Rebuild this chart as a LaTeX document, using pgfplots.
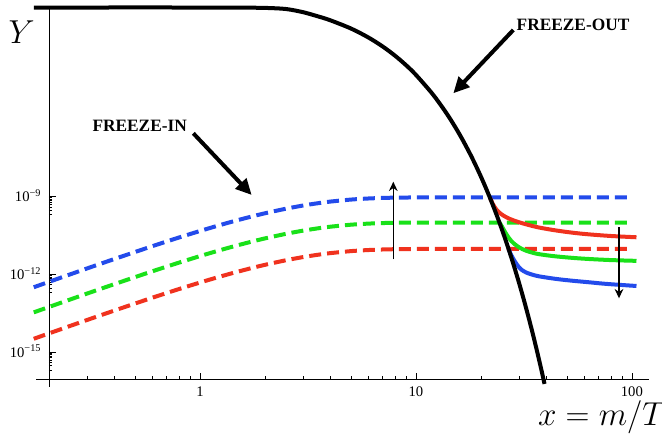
\documentclass[border=0pt]{standalone}
\usepackage{fontspec}
\setmainfont{Liberation Serif}
\usepackage{pgfplots}
\pgfplotsset{compat=1.18}
\usetikzlibrary{arrows.meta}

\definecolor{mblue}{RGB}{35,75,235}
\definecolor{mgreen}{RGB}{25,225,25}
\definecolor{mred}{RGB}{240,50,30}

\begin{document}
\begin{tikzpicture}[x=0.75pt,y=0.75pt]
\path[use as bounding box] (0,0) rectangle (662,433);

\begin{axis}[
    at={(36.75pt,40.125pt)}, anchor=south west,
    scale only axis, width=450pt, height=279pt,
    xmode=log, ymode=log,
    xmin=0.2, xmax=120, ymin=8.7e-17, ymax=2e-2,
    axis lines=left, axis line style={-, line width=0.6pt},
    clip=false,
    tick align=inside, major tick length=5pt, minor tick length=2.5pt,
    every tick/.style={black, line width=0.5pt},
    xtick={1,10,100}, xticklabels={1,10,100},
    minor xtick={0.3,0.4,0.5,0.6,0.7,0.8,0.9,2,3,4,5,6,7,8,9,20,30,40,50,60,70,80,90},
    ytick={1e-15,1e-12,1e-9},
    yticklabels={10\textsuperscript{−15},10\textsuperscript{−12},10\textsuperscript{−9}},
    minor ytick={2e-16,3e-16,4e-16,5e-16,6e-16,7e-16,8e-16,9e-16,
                 2e-13,3e-13,4e-13,5e-13,6e-13,7e-13,8e-13,9e-13,
                 2e-10,3e-10,4e-10,5e-10,6e-10,7e-10,8e-10,9e-10},
    xticklabel style={font=\fontsize{11}{13}\selectfont, yshift=-2pt},
    yticklabel style={font=\fontsize{11}{13}\selectfont, anchor=base east, yshift=-3.8pt, xshift=-2.3pt},
]

% freeze-in (dashed)
\addplot[mblue, line width=3pt, dash pattern=on 9pt off 4.5pt, smooth] coordinates {
(0.17,3.170e-13) (0.2,5.129e-13) (0.3,1.687e-12) (0.4,3.864e-12) (0.5,7.261e-12)
(0.6,1.211e-11) (0.7,1.845e-11) (0.8,2.642e-11) (1.0,4.710e-11) (1.2,7.396e-11)
(1.4,1.064e-10) (1.7,1.633e-10) (2.0,2.275e-10) (2.5,3.412e-10) (3.0,4.529e-10)
(3.5,5.534e-10) (4,6.412e-10) (5,7.691e-10) (6,8.453e-10) (7,8.892e-10)
(8,9.120e-10) (10,9.290e-10) (15,9.333e-10) (100,9.333e-10)
};
\addplot[mgreen, line width=3pt, dash pattern=on 9pt off 4.5pt, smooth] coordinates {
(0.17,3.396e-14) (0.2,5.495e-14) (0.3,1.807e-13) (0.4,4.140e-13) (0.5,7.780e-13)
(0.6,1.297e-12) (0.7,1.977e-12) (0.8,2.831e-12) (1.0,5.047e-12) (1.2,7.925e-12)
(1.4,1.140e-11) (1.7,1.750e-11) (2.0,2.438e-11) (2.5,3.656e-11) (3.0,4.853e-11)
(3.5,5.929e-11) (4,6.871e-11) (5,8.241e-11) (6,9.057e-11) (7,9.528e-11)
(8,9.772e-11) (10,9.954e-11) (15,1.0e-10) (100,1.0e-10)
};
\addplot[mred, line width=3pt, dash pattern=on 9pt off 4.5pt, smooth] coordinates {
(0.17,3.243e-15) (0.2,5.248e-15) (0.3,1.726e-14) (0.4,3.954e-14) (0.5,7.430e-14)
(0.6,1.239e-13) (0.7,1.888e-13) (0.8,2.704e-13) (1.0,4.819e-13) (1.2,7.568e-13)
(1.4,1.089e-12) (1.7,1.671e-12) (2.0,2.328e-12) (2.5,3.491e-12) (3.0,4.634e-12)
(3.5,5.662e-12) (4,6.561e-12) (5,7.870e-12) (6,8.650e-12) (7,9.099e-12)
(8,9.333e-12) (10,9.506e-12) (15,9.550e-12) (100,9.550e-12)
};

% freeze-out (solid)
\addplot[mred, line width=3pt, smooth, line join=round] coordinates {
(22.0,9.120e-10) (22.6,5.623e-10) (23.3,3.631e-10) (24.2,2.512e-10) (25.5,1.820e-10)
(27.2,1.380e-10) (29.5,1.072e-10) (32.4,8.511e-11) (37,6.457e-11) (44.8,4.898e-11)
(54,3.981e-11) (63.9,3.467e-11) (80,3.020e-11) (105,2.692e-11)
};
\addplot[mgreen, line width=3pt, smooth, line join=round] coordinates {
(24.4,1.000e-10) (25.2,6.310e-11) (26.0,3.981e-11) (26.8,2.692e-11) (27.7,1.905e-11)
(28.8,1.413e-11) (30.2,1.072e-11) (32.4,8.128e-12) (36,6.310e-12) (40,5.495e-12)
(44.8,4.898e-12) (54,4.266e-12) (63.9,3.890e-12) (80,3.548e-12) (105,3.311e-12)
};
\addplot[mblue, line width=3pt, smooth, line join=round] coordinates {
(26.84,9.550e-12) (27.6,5.623e-12) (28.7,3.162e-12) (29.7,2.089e-12) (30.8,1.514e-12)
(32.4,1.175e-12) (34.5,9.772e-13) (37.3,8.318e-13) (44.8,6.607e-13) (53.4,5.623e-13)
(63.9,4.898e-13) (76.3,4.266e-13) (105,3.548e-13)
};

% equilibrium curve
\addplot[black, line width=3pt, smooth, line join=round] coordinates {
(0.17,2.0e-2) (1.0,2.0e-2) (1.5,1.98e-2) (2.0,1.93e-2) (2.5,1.75e-2) (3,1.32e-2) (3.5,9.22e-3)
(4,6.487e-3) (5,3.093e-3) (6,1.419e-3) (7,6.332e-4) (8,2.763e-4) (9,1.186e-4)
(10,5.012e-5) (12,8.665e-6) (14,1.448e-6) (16,2.357e-7) (18,3.760e-8)
(20,5.899e-9) (22,9.138e-10) (24,1.399e-10) (26,2.123e-11) (28,3.195e-12)
(30,4.775e-13) (32,7.091e-14) (34,1.048e-14) (36,1.540e-15) (38,2.255e-16)
(39.4,5.857e-17)
};
\end{axis}

% axis line extensions
\draw[line width=0.6pt] (36,53.5) -- (49,53.5);
\draw[line width=0.6pt] (49,53.5) -- (49,46);

% labels
\node at (21.7,400.7) {\fontsize{24}{26}\selectfont $Y$};
\node at (602,15.5) {\fontsize{23}{25}\selectfont $x = m/T$};
\node at (139.7,307) {\bfseries\fontsize{13}{15}\selectfont FREEZE-IN};
\node at (573,408) {\bfseries\fontsize{13}{15}\selectfont FREEZE-OUT};

% arrows
\draw[line width=3pt, -{Triangle[length=12pt,width=11pt]}] (193.3,299.7) -- (251.7,238);
\draw[line width=3pt, -{Triangle[length=12pt,width=11pt]}] (513.3,403) -- (453.3,339.7);
\draw[line width=1.1pt, -{Stealth[length=7pt,width=6.5pt]}] (393.3,173.7) -- (393.3,251.3);
\draw[line width=1.1pt, -{Stealth[length=7pt,width=6.5pt]}] (619,205.7) -- (619,134.7);
\end{tikzpicture}
\end{document}
